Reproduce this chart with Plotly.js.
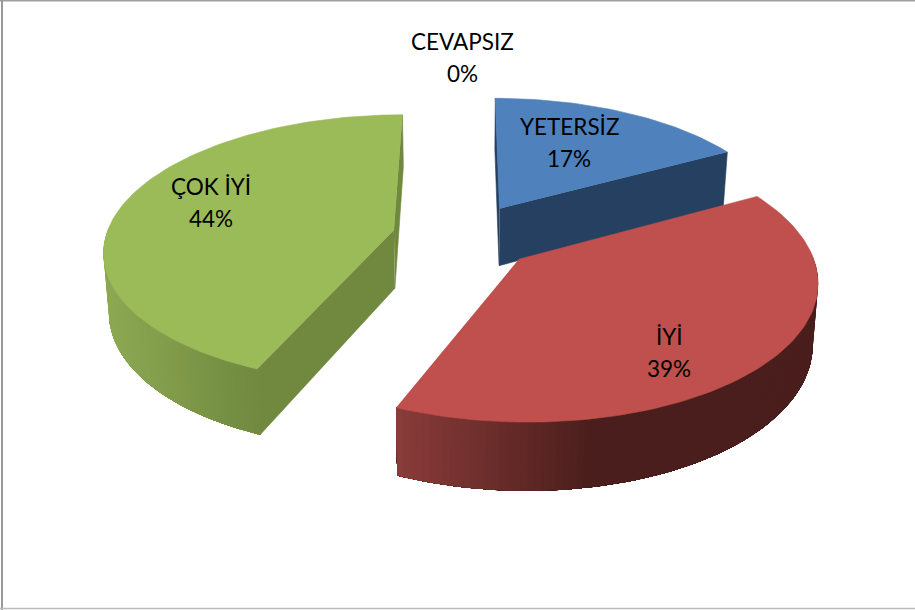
<!DOCTYPE html>
<html>
<head>
<meta charset="utf-8">
<script src="https://cdn.plot.ly/plotly-3.0.1.min.js"></script>
<style>html,body{margin:0;padding:0;background:#fff}#c{width:915px;height:610px}</style>
</head>
<body>
<div id="c"></div>
<script>
// Data
const categories = ['YETERSİZ', 'İYİ', 'ÇOK İYİ', 'CEVAPSIZ'];
const percents = [17, 39.3, 43.7, 0];

// Styling
const topColors = ['#4F81BD', '#C0504D', '#9BBB59', '#8064A2'];
const radialWallColors = ['#254061', '#4A1E1C', '#71893F', '#403152'];
const outerWallLeft = [[37,64,97], [138,60,58], [140,168,82], [64,49,82]];
const outerWallRight = [[37,64,97], [74,30,28], [112,137,63], [64,49,82]];
const gradientEnd = [1, 0.47, 1, 1];
const startWall = [true, false, true, false];
const endWall = [true, false, true, false];
const labelX = [569, 669, 211, 462];
const labelY = [142, 352, 202, 57];
const lineGap = 16;
const drawOrder = [3, 0, 2, 1];

// Projection of the tilted pie
const cx = 464, cy = 236.5, R = 288, tilt = 0.462, persp = 0.14, explode = 0.25, depth = 58.5, baseShrink = 0.985;
function project(X, Y, low) {
  const s = 1 / (1 + persp * Y);
  return [cx + X * R * s * (low ? baseShrink : 1), cy - Y * R * s * tilt + (low ? depth * Math.pow(s, 0.9) : 0)];
}
const rad = d => d * Math.PI / 180;

const traces = [];
function poly(pts, color, lw) {
  traces.push({
    type: 'scatter', mode: 'lines', fill: 'toself', fillcolor: color,
    x: pts.map(p => p[0]), y: pts.map(p => p[1]),
    line: {color: color, width: lw === undefined ? 0.6 : lw}, hoverinfo: 'skip', showlegend: false
  });
}

let cum = 0;
const total = percents.reduce((a, b) => a + b, 0);
const slices = percents.map((v, i) => {
  const a0 = cum / total * 360; cum += v;
  const a1 = cum / total * 360;
  return {i, a0, a1};
});

drawOrder.forEach(i => {
  const {a0, a1} = slices[i];
  if (a1 - a0 <= 0) return;
  const mid = rad((a0 + a1) / 2);
  const ox = explode * Math.sin(mid), oy = explode * Math.cos(mid);
  const pt = (a, low) => project(ox + Math.sin(rad(a)), oy + Math.cos(rad(a)), low);
  const apex = low => project(ox, oy, low);

  if (startWall[i]) poly([apex(false), pt(a0, false), pt(a0, true), apex(true)], radialWallColors[i]);
  if (endWall[i]) poly([apex(false), pt(a1, false), pt(a1, true), apex(true)], radialWallColors[i]);

  // curved outer wall: overlapping bands painted one over the next, so no seams show
  const w0 = Math.max(a0, 88), w1 = Math.min(a1, 272);
  if (w1 > w0) {
    const xLeft = pt(i === 1 ? a1 : w1, false)[0], xRight = pt(i === 1 ? w0 : a0, false)[0];
    const steps = Math.ceil((w1 - w0) / 1.2);
    for (let k = 0; k < steps; k++) {
      const a = i === 1 ? w0 + (w1 - w0) * k / steps : w1 - (w1 - w0) * k / steps;
      const b = i === 1 ? w1 : w0;
      const next = i === 1 ? w0 + (w1 - w0) * (k + 1) / steps : w1 - (w1 - w0) * (k + 1) / steps;
      const xm = (pt(a, false)[0] + pt(next, false)[0]) / 2;
      let f = (xm - xLeft) / (xRight - xLeft) / gradientEnd[i];
      f = Math.max(0, Math.min(1, f));
      const c = outerWallLeft[i].map((l, n) => Math.round(l + (outerWallRight[i][n] - l) * f));
      const band = [];
      const m = Math.max(2, Math.ceil(Math.abs(b - a) / 1.5));
      for (let q = 0; q <= m; q++) band.push(pt(a + (b - a) * q / m, false));
      for (let q = m; q >= 0; q--) band.push(pt(a + (b - a) * q / m, true));
      poly(band, `rgb(${c.join(',')})`, 0);
    }
  }
  // top face
  const face = [apex(false)];
  const n = Math.ceil((a1 - a0) / 1.5);
  for (let k = 0; k <= n; k++) face.push(pt(a0 + (a1 - a0) * k / n, false));
  poly(face, topColors[i]);
});

const annotations = [];
categories.forEach((c, i) => {
  const common = {xref: 'x', yref: 'y', x: labelX[i], showarrow: false, xanchor: 'center', yanchor: 'middle',
    font: {family: 'Lato, "Open Sans", sans-serif', size: 22.5, color: '#000'}};
  annotations.push(Object.assign({}, common, {y: labelY[i] - lineGap, text: c}));
  annotations.push(Object.assign({}, common, {y: labelY[i] + lineGap, text: Math.round(percents[i]) + '%'}));
});

const frame = [
  {type: 'line', xref: 'paper', yref: 'paper', x0: 0, x1: 1, y0: 0.9992, y1: 0.9992, line: {color: '#A0A0A0', width: 2}},
  {type: 'line', xref: 'x', yref: 'paper', x0: 2, x1: 2, y0: 0, y1: 1, line: {color: '#999999', width: 2}},
  {type: 'line', xref: 'paper', yref: 'y', x0: 0, x1: 1, y0: 608.5, y1: 608.5, line: {color: '#BBBBBB', width: 1.5}}
];

Plotly.newPlot('c', traces, {
  width: 915, height: 610, margin: {l: 0, r: 0, t: 0, b: 0},
  paper_bgcolor: '#fff', plot_bgcolor: '#fff', showlegend: false,
  xaxis: {range: [0, 915], visible: false, fixedrange: true},
  yaxis: {range: [610, 0], visible: false, fixedrange: true},
  annotations: annotations, shapes: frame
}, {displayModeBar: false, staticPlot: true});
</script>
</body>
</html>
